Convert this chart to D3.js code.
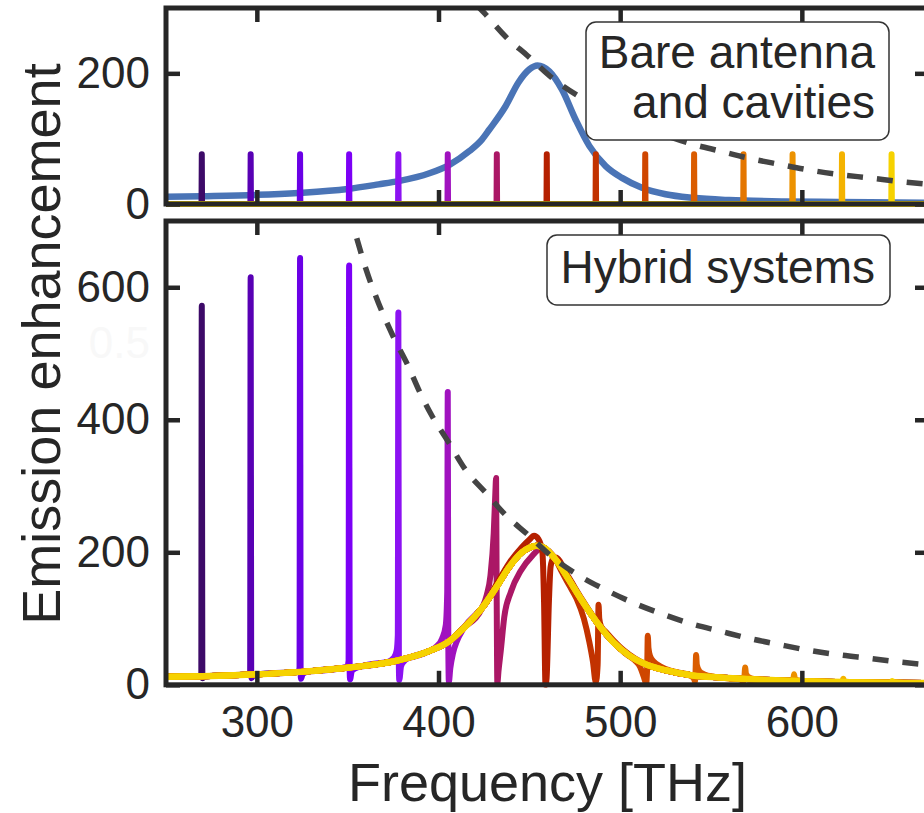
<!DOCTYPE html>
<html><head><meta charset="utf-8">
<script src="https://cdn.jsdelivr.net/npm/d3@7"></script>
<style>body{margin:0;background:#fff}svg{display:block}</style>
</head><body>
<svg id="c" width="924" height="813"></svg>
<script>
// ---------------- data ----------------
const xDomain = [250, 670];
const xTicks = [300, 400, 500, 600];
const topYDomain = [0, 300];
const topYTicks = [0, 200];
const bottomYDomain = [0, 700];
const bottomYTicks = [0, 200, 400, 600];

const cavityFreqs = [269.7, 296.6, 323.8, 350.8, 377.9, 405.1, 432.1, 459.6, 486.6, 513.8, 540.7, 567.9, 594.9, 622.1, 649.4];
const cavityColors = ["#3d0a68", "#5800b4", "#6a00e6", "#7c00f6", "#8c12f2", "#a012bf", "#ab1766", "#b52000", "#c23200", "#cf4600", "#da5c00", "#e47600", "#ec9200", "#f4b300", "#f6d200"];
const bareCavityPeak = 76;

// bare antenna (top panel, blue)
const bareAntenna = [[250,11],[270,12],[300,14],[323,17],[350,23],[367,30],[378,35],[395,47],[406,60],[417,81],[424,99],[428,114],[437,150],[444,186],[450,206],[454.5,212],[461,203],[468,175],[475.5,129],[483,89],[492,58],[501,40],[512,25],[525,15],[540,9.5],[560,6],[590,4],[620,3],[670,2]];

// hybrid base response (bottom panel)
const hybridBase = [[250,12],[270,13],[297,15.5],[324,19.5],[351,26],[378,37],[395,51],[406,66],[414,86],[424,116],[432,148],[439,178],[446,200],[450,207],[454,210],[458,207],[464.5,189],[471,162],[479,127],[487,95],[496,65],[505,44],[515,30],[525,22],[540,14],[555,11],[575,8],[600,5.5],[625,4],[650,3],[670,2.6]];

// Fano features of each hybrid system near its cavity frequency
const hybridFeatures = [
  [[266,12.8],[268.8,13.5],[269.4,17],[269.7,572],[270.0,15],[270.2,10],[271,12],[274,13.2]],
  [[293,15],[295.8,16],[296.3,20],[296.6,615],[296.9,17],[297.1,10],[298,14],[301,16]],
  [[320,19],[323,20.5],[323.5,26],[323.8,644],[324.1,20],[324.3,9],[325.2,16],[328,20]],
  [[346,25],[349.8,27.5],[350.5,36],[350.8,633],[351.1,22],[351.3,8],[352.3,21],[356,27]],
  [[371,33],[375.5,41],[377,52],[377.6,75],[377.9,562],[378.2,25],[378.4,7],[379.4,28],[382,38],[386,43]],
  [[395,51],[399,58],[402,70],[404,90],[404.8,140],[405.1,442],[405.4,60],[405.7,4],[406.5,25],[408,48],[410,65],[414,86]],
  [[424,116],[426.5,135],[428.6,165],[430.4,229],[431.3,290],[431.7,312],[432.0,150],[432.4,2],[433,20],[434.3,52],[436.2,102],[439.8,140],[445.3,172],[451.7,195],[456,205],[461,200]],
  [[425,119],[432,152],[439,184],[446,208],[450,219],[452.6,225],[455,220],[457.2,200],[458.1,125],[458.9,0],[459.5,10],[460.8,127],[461.7,178],[463,190],[464.5,192],[471,165],[479,129],[487,96],[496,65]],
  [[468,170],[472,150],[476,130],[480,100],[483,65],[485,35],[486.6,4],[487.6,30],[488.1,121],[488.5,100],[489.5,88],[492,80],[496,68],[502,52],[508,40]],
  [[503,47],[508,37],[511,27],[513,12],[514.3,2],[514.9,30],[515.2,74],[515.6,55],[516.5,43],[518.5,35],[522,28],[528,21],[535,17]],
  [[533,17],[538,14.5],[540.5,10],[541.2,5],[541.5,20],[541.8,45],[542.2,30],[543.5,21],[546,16],[552,12]],
  [[561,9.5],[566,8.5],[567.8,5],[568.4,12],[568.8,26],[569.2,17],[570.5,12],[574,8.5],[580,7.2]],
  [[589,6.3],[593,5.9],[594.8,3],[595.4,9],[595.7,16],[596.1,10],[597.5,7],[602,5.4]],
  [[617,4.3],[621,4.1],[622.1,2],[622.5,6],[622.8,9],[623.2,6],[624.5,4.5],[629,3.9]],
  [[645,3.1],[648.5,3],[649.3,1.8],[649.6,4],[649.8,5.5],[650.1,4],[651.5,3.3],[656,2.9]]
];

// upper bound (dashed)
const upperBound = [[355,674],[360,628],[367,576],[375,526],[383,483],[390,440],[396,408],[406,364],[415,324],[426,290],[437,256],[449,227],[463,192],[476,167],[490,146],[507,124],[522,108],[538,93],[555,81],[571,70],[587,61],[604,52],[621,45],[637,40],[655,34],[670,30]];

const topBoxLines = ["Bare antenna", "and cavities"];
const bottomBoxLine = "Hybrid systems";
const xTitle = "Frequency [THz]";
const yTitle = "Emission enhancement";
const ghostLabel = "0.5";

// ---------------- drawing ----------------
const svg = d3.select("#c");
const FONT = "'Liberation Sans', Arial, Helvetica, sans-serif";
const INK = "#262626";

const x = d3.scaleLinear().domain(xDomain).range([166, 929]);
const yTop = d3.scaleLinear().domain(topYDomain).range([204, 8]);
const yBot = d3.scaleLinear().domain(bottomYDomain).range([684.8, 221]);

const defs = svg.append("defs");
defs.append("clipPath").attr("id", "clipTop").append("rect")
  .attr("x", x(xDomain[0])).attr("y", yTop(topYDomain[1]))
  .attr("width", x(xDomain[1]) - x(xDomain[0])).attr("height", yTop(0) - yTop(topYDomain[1]) + 3);
defs.append("clipPath").attr("id", "clipBot").append("rect")
  .attr("x", x(xDomain[0])).attr("y", yBot(bottomYDomain[1]))
  .attr("width", x(xDomain[1]) - x(xDomain[0])).attr("height", yBot(0) - yBot(bottomYDomain[1]) + 3);

// ghost label
svg.append("text").attr("x", 150).attr("y", 358).attr("text-anchor", "end")
  .attr("font-family", FONT).attr("font-size", 44).attr("fill", "#f8f8f8").text(ghostLabel);

function lineFor(y, curve) {
  return d3.line().x(d => x(d[0])).y(d => y(d[1])).curve(curve || d3.curveMonotoneX);
}

// ---- top panel ----
const gTop = svg.append("g").attr("clip-path", "url(#clipTop)");
gTop.append("path").datum(bareAntenna)
  .attr("d", lineFor(yTop))
  .attr("fill", "none").attr("stroke", "#4a74b6").attr("stroke-width", 6.5)
  .attr("stroke-linejoin", "round").attr("stroke-linecap", "round");

cavityFreqs.forEach((f, i) => {
  const pts = [[xDomain[0], 0], [f - 0.15, 0], [f, bareCavityPeak], [f + 0.15, 0], [xDomain[1], 0]];
  gTop.append("path").datum(pts)
    .attr("d", lineFor(yTop, d3.curveLinear))
    .attr("fill", "none").attr("stroke", cavityColors[i]).attr("stroke-width", 6)
    .attr("stroke-linejoin", "round").attr("stroke-linecap", "round");
});

gTop.append("path").datum(upperBound)
  .attr("d", lineFor(yTop))
  .attr("fill", "none").attr("stroke", "#444").attr("stroke-width", 5.5)
  .attr("stroke-dasharray", "16,14");

// ---- bottom panel ----
const gBot = svg.append("g").attr("clip-path", "url(#clipBot)");
hybridFeatures.forEach((feat, i) => {
  const lo = feat[0][0], hi = feat[feat.length - 1][0];
  const pts = hybridBase.filter(p => p[0] < lo || p[0] > hi).concat(feat).sort((a, b) => a[0] - b[0]);
  const last = i === hybridFeatures.length - 1;
  gBot.append("path").datum(pts)
    .attr("d", lineFor(yBot))
    .attr("fill", "none").attr("stroke", cavityColors[i])
    .attr("stroke-width", last ? 6.5 : 6)
    .attr("stroke-linejoin", "round").attr("stroke-linecap", "round");
});

gBot.append("path").datum(upperBound)
  .attr("d", lineFor(yBot))
  .attr("fill", "none").attr("stroke", "#444").attr("stroke-width", 5.5)
  .attr("stroke-dasharray", "16,14");

// ---- axes & frames ----
function styleAxis(g) {
  g.select(".domain").remove();
  g.selectAll(".tick line").attr("stroke", INK).attr("stroke-width", 4.5);
  g.selectAll(".tick text").attr("fill", INK).attr("font-family", FONT).attr("font-size", 44);
}
function panelAxes(y, yTicks, showXLabels) {
  const [y0, y1] = y.range();
  svg.append("g").attr("transform", `translate(${x.range()[0]},0)`)
    .call(d3.axisLeft(y).tickValues(yTicks).tickSize(-14).tickPadding(16).tickFormat(d3.format("d")))
    .call(styleAxis);
  svg.append("g").attr("transform", `translate(${x.range()[1]},0)`)
    .call(d3.axisRight(y).tickValues(yTicks).tickSize(-14).tickFormat(""))
    .call(styleAxis);
  svg.append("g").attr("transform", `translate(0,${y1})`)
    .call(d3.axisTop(x).tickValues(xTicks).tickSize(-14).tickFormat(""))
    .call(styleAxis);
  svg.append("g").attr("transform", `translate(0,${y0})`)
    .call(d3.axisBottom(x).tickValues(xTicks).tickSize(-14).tickPadding(21).tickFormat(showXLabels ? d3.format("d") : ""))
    .call(styleAxis);
  svg.append("rect").attr("x", x.range()[0]).attr("y", y1)
    .attr("width", x.range()[1] - x.range()[0]).attr("height", y0 - y1)
    .attr("fill", "none").attr("stroke", INK).attr("stroke-width", 5);
}
panelAxes(yTop, topYTicks, false);
panelAxes(yBot, bottomYTicks, true);

// ---- annotation boxes ----
svg.append("rect").attr("x", 586).attr("y", 22).attr("width", 303).attr("height", 118).attr("rx", 10)
  .attr("fill", "#fff").attr("stroke", "#333").attr("stroke-width", 1.5);
topBoxLines.forEach((t, i) => {
  svg.append("text").attr("x", 875).attr("y", 68 + i * 50).attr("text-anchor", "end")
    .attr("font-family", FONT).attr("font-size", 46).attr("fill", INK).text(t);
});
svg.append("rect").attr("x", 547).attr("y", 235).attr("width", 343).attr("height", 70).attr("rx", 10)
  .attr("fill", "#fff").attr("stroke", "#333").attr("stroke-width", 1.5);
svg.append("text").attr("x", 875).attr("y", 283).attr("text-anchor", "end")
  .attr("font-family", FONT).attr("font-size", 46).attr("fill", INK).text(bottomBoxLine);

// ---- axis titles ----
svg.append("text").attr("x", (x.range()[0] + x.range()[1]) / 2).attr("y", 801).attr("text-anchor", "middle")
  .attr("font-family", FONT).attr("font-size", 54).attr("fill", INK).text(xTitle);
svg.append("text").attr("transform", "translate(60,344) rotate(-90)").attr("text-anchor", "middle")
  .attr("font-family", FONT).attr("font-size", 54).attr("fill", INK).text(yTitle);
</script>
</body></html>
